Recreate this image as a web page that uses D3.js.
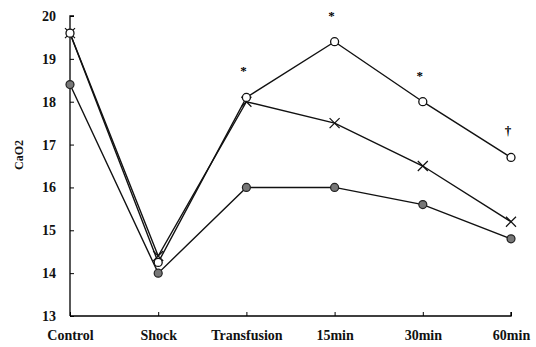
<!DOCTYPE html>
<html lang="en">
<head>
    <meta charset="UTF-8">
    <style>
        body { margin:0; background:#fff; }
        svg { display:block; }
        svg text { font-family:"Liberation Serif","Times New Roman",serif; fill:#111; }
    </style>
    <script src="https://d3js.org/d3.v7.min.js"></script>
</head>
<body>
<svg width="536" height="347"></svg>
<script>
    // chart data
    var categories = ["Control", "Shock", "Transfusion", "15min", "30min", "60min"];
    var openCircle = [19.6, 14.25, 18.1, 19.4, 18.0, 16.7];
    var crossMark = [19.6, 14.4, 18.0, 17.5, 16.5, 15.2];
    var filledCircle = [18.4, 14.0, 16.0, 16.0, 15.6, 14.8];
    var yTicks = [13, 14, 15, 16, 17, 18, 19, 20];
    var marks = [
        {cat: "Transfusion", value: 18.1, text: "*"},
        {cat: "15min", value: 19.4, text: "*"},
        {cat: "30min", value: 18.0, text: "*"},
        {cat: "60min", value: 16.7, text: "\u2020"}
    ];

    var svg = d3.select("svg");

    var x = d3.scalePoint().domain(categories).range([70, 511]);
    var y = d3.scaleLinear().domain([13, 20]).range([316, 16]);

    // y axis with inward ticks
    var yAxis = svg.append("g")
        .attr("transform", "translate(70,0)")
        .call(d3.axisRight(y).tickValues(yTicks).tickSize(4).tickFormat(d3.format("d")));
    yAxis.attr("font-family", null);
    yAxis.select(".domain").attr("d", "M4," + y(20) + "H0V" + y(13)).attr("stroke-width", 1.3);
    yAxis.selectAll("text")
        .attr("x", -14).attr("text-anchor", "end")
        .style("font-size", "14px").style("font-weight", "bold");

    // x axis with upward ticks
    var xAxis = svg.append("g")
        .attr("transform", "translate(0," + y(13) + ")")
        .call(d3.axisTop(x).tickSize(4));
    xAxis.attr("font-family", null);
    xAxis.select(".domain").attr("d", "M70,0H511V-4").attr("stroke-width", 1.3);
    xAxis.selectAll("text")
        .attr("y", 24)
        .style("font-size", "14px").style("font-weight", "bold");

    svg.append("text")
        .attr("transform", "translate(23,155) rotate(-90)")
        .attr("text-anchor", "middle")
        .style("font-size", "12px").style("font-weight", "bold")
        .text("CaO2");

    var line = d3.line()
        .x(function(d, i) { return x(categories[i]); })
        .y(function(d) { return y(d); });

    [filledCircle, crossMark, openCircle].forEach(function(s) {
        svg.append("path")
            .datum(s)
            .attr("d", line)
            .attr("fill", "none")
            .attr("stroke", "#111")
            .attr("stroke-width", 1.4);
    });

    // filled circles
    svg.selectAll(".fc").data(filledCircle).enter().append("circle")
        .attr("cx", function(d, i) { return x(categories[i]); })
        .attr("cy", function(d) { return y(d); })
        .attr("r", 4)
        .attr("fill", "#777")
        .attr("stroke", "#222")
        .attr("stroke-width", 1.2);

    // crosses
    svg.selectAll(".cx").data(crossMark).enter().append("path")
        .attr("transform", function(d, i) { return "translate(" + x(categories[i]) + "," + y(d) + ")"; })
        .attr("d", "M-5,-5L5,5M-5,5L5,-5")
        .attr("stroke", "#111")
        .attr("stroke-width", 1.2);

    // open circles
    svg.selectAll(".oc").data(openCircle).enter().append("circle")
        .attr("cx", function(d, i) { return x(categories[i]); })
        .attr("cy", function(d) { return y(d); })
        .attr("r", 4)
        .attr("fill", "#fff")
        .attr("stroke", "#111")
        .attr("stroke-width", 1.3);

    // significance marks
    svg.selectAll(".sig").data(marks).enter().append("text")
        .attr("x", function(d) { return x(d.cat) - 3; })
        .attr("y", function(d) { return y(d.value) - 22; })
        .attr("text-anchor", "middle")
        .style("font-size", "13px")
        .style("font-weight", "bold")
        .style("fill", "#000")
        .text(function(d) { return d.text; });
</script>
</body>
</html>
